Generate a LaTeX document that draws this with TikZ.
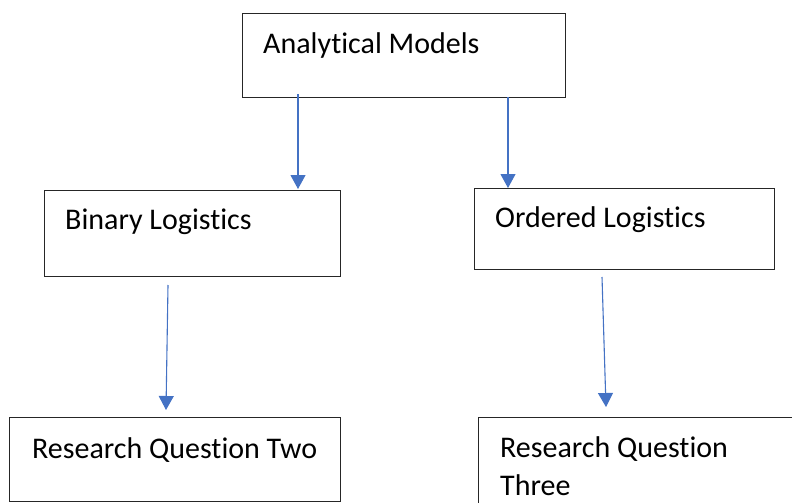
\documentclass[tikz,border=0pt]{standalone}
\usepackage{fontspec}
\setmainfont{Carlito}[Ligatures=NoCommon]
\usetikzlibrary{arrows.meta}
\begin{document}
\begin{tikzpicture}[x=1pt,y=-1pt,
  box/.style={draw=black!85, line width=1.2pt, anchor=north west, inner sep=0pt},
  txt/.style={anchor=base west, inner sep=0pt, font=\fontsize{30}{38}\selectfont},
  arr/.style={draw={rgb,255:red,68;green,114;blue,196}, line width=1.1pt,
    -{Triangle[width=15pt,length=14pt]}, color={rgb,255:red,68;green,114;blue,196}}]
\useasboundingbox (0,0) rectangle (792,503);
\clip (0,0) rectangle (792,503);
% boxes
\node[box, minimum width=323pt, minimum height=84pt] (am) at (242,13) {};
\node[box, minimum width=296pt, minimum height=86pt] (bl) at (44,190) {};
\node[box, minimum width=300pt, minimum height=81pt] (ol) at (474,188) {};
\node[box, minimum width=331pt, minimum height=84pt] (rq2) at (9,417) {};
\node[box, minimum width=330pt, minimum height=110pt] (rq3) at (478,417) {};
% texts
\node[txt] (amt) at (263,53) {Analytical Models};
\node[txt] (blt) at (65,229) {Binary Logistics};
\node[txt] (olt) at (495,227) {Ordered Logistics};
\node[txt] (rq2t) at (32,458) {Research Question Two};
\node[txt] (rq3a) at (500,457) {Research Question};
\node[txt] (rq3b) at (500,495) {Three};
% connector endpoints
\coordinate (a1) at (298,94);  \coordinate (b1) at (298,189);
\coordinate (a2) at (508,97);  \coordinate (b2) at (508,188);
\coordinate (a3) at (168,285); \coordinate (b3) at (166,410);
\coordinate (a4) at (602,277); \coordinate (b4) at (606,407);
\draw[arr] (a1) -- (b1);
\draw[arr] (a2) -- (b2);
\draw[arr] (a3) -- (b3);
\draw[arr] (a4) -- (b4);
\end{tikzpicture}
\end{document}
